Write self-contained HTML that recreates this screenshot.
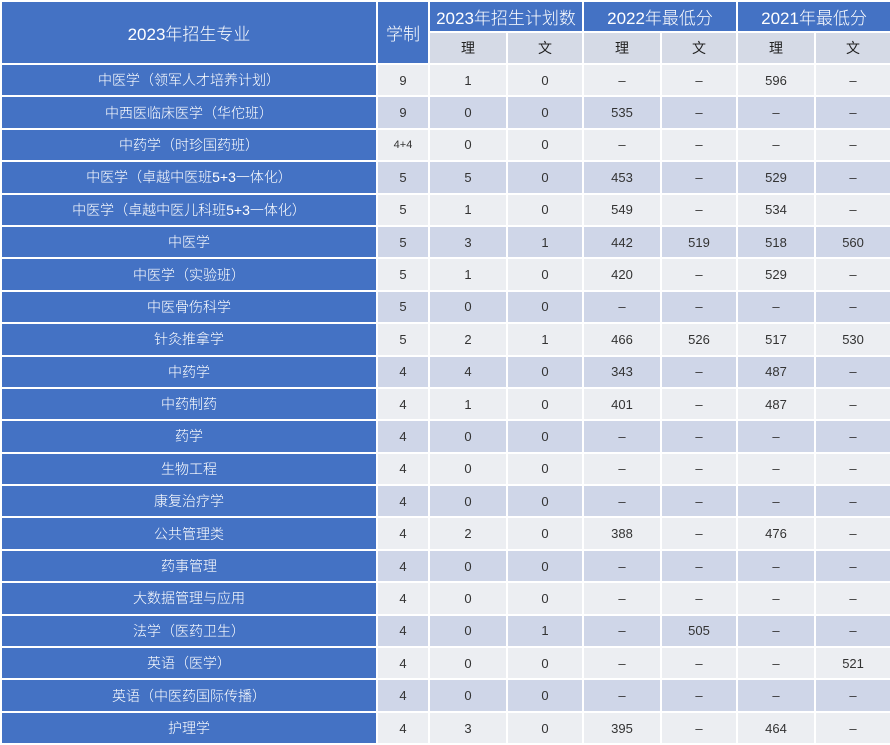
<!DOCTYPE html>
<html><head><meta charset="utf-8"><style>
html,body{margin:0;padding:0;background:#fff;}
body{width:890px;height:743px;overflow:hidden;}
table{border-collapse:collapse;table-layout:fixed;width:890px;font-family:"Liberation Sans","Noto Sans CJK SC",sans-serif;}
td{border:2px solid #fff;text-align:center;padding:0;font-size:13px;color:#333;}
.h{background:#4472c4;color:#fff;font-size:17px;font-weight:300;}
.s{background:#d5dae6;color:#222;font-size:14px;}
.n{background:#4472c4;color:#fff;font-size:14px;font-weight:300;}
tr.d{height:32.4px;}
tr.l td:not(.n){background:#eceef2;}
tr.k td:not(.n){background:#cfd6e8;}
</style></head><body>
<table>
<colgroup><col style="width:376px"><col style="width:52px"><col style="width:78px"><col style="width:76px"><col style="width:78px"><col style="width:76px"><col style="width:78px"><col style="width:76px"></colgroup>
<tr style="height:31px"><td class="h" rowspan="2">2023年招生专业</td><td class="h" rowspan="2">学制</td><td class="h" colspan="2">2023年招生计划数</td><td class="h" colspan="2">2022年最低分</td><td class="h" colspan="2">2021年最低分</td></tr>
<tr style="height:32px"><td class="s">理</td><td class="s">文</td><td class="s">理</td><td class="s">文</td><td class="s">理</td><td class="s">文</td></tr>
<tr class="d l"><td class="n">中医学（领军人才培养计划）</td><td>9</td><td>1</td><td>0</td><td>–</td><td>–</td><td>596</td><td>–</td></tr>
<tr class="d k"><td class="n">中西医临床医学（华佗班）</td><td>9</td><td>0</td><td>0</td><td>535</td><td>–</td><td>–</td><td>–</td></tr>
<tr class="d l"><td class="n">中药学（时珍国药班）</td><td style="font-size:11px">4+4</td><td>0</td><td>0</td><td>–</td><td>–</td><td>–</td><td>–</td></tr>
<tr class="d k"><td class="n">中医学（卓越中医班5+3一体化）</td><td>5</td><td>5</td><td>0</td><td>453</td><td>–</td><td>529</td><td>–</td></tr>
<tr class="d l"><td class="n">中医学（卓越中医儿科班5+3一体化）</td><td>5</td><td>1</td><td>0</td><td>549</td><td>–</td><td>534</td><td>–</td></tr>
<tr class="d k"><td class="n">中医学</td><td>5</td><td>3</td><td>1</td><td>442</td><td>519</td><td>518</td><td>560</td></tr>
<tr class="d l"><td class="n">中医学（实验班）</td><td>5</td><td>1</td><td>0</td><td>420</td><td>–</td><td>529</td><td>–</td></tr>
<tr class="d k"><td class="n">中医骨伤科学</td><td>5</td><td>0</td><td>0</td><td>–</td><td>–</td><td>–</td><td>–</td></tr>
<tr class="d l"><td class="n">针灸推拿学</td><td>5</td><td>2</td><td>1</td><td>466</td><td>526</td><td>517</td><td>530</td></tr>
<tr class="d k"><td class="n">中药学</td><td>4</td><td>4</td><td>0</td><td>343</td><td>–</td><td>487</td><td>–</td></tr>
<tr class="d l"><td class="n">中药制药</td><td>4</td><td>1</td><td>0</td><td>401</td><td>–</td><td>487</td><td>–</td></tr>
<tr class="d k"><td class="n">药学</td><td>4</td><td>0</td><td>0</td><td>–</td><td>–</td><td>–</td><td>–</td></tr>
<tr class="d l"><td class="n">生物工程</td><td>4</td><td>0</td><td>0</td><td>–</td><td>–</td><td>–</td><td>–</td></tr>
<tr class="d k"><td class="n">康复治疗学</td><td>4</td><td>0</td><td>0</td><td>–</td><td>–</td><td>–</td><td>–</td></tr>
<tr class="d l"><td class="n">公共管理类</td><td>4</td><td>2</td><td>0</td><td>388</td><td>–</td><td>476</td><td>–</td></tr>
<tr class="d k"><td class="n">药事管理</td><td>4</td><td>0</td><td>0</td><td>–</td><td>–</td><td>–</td><td>–</td></tr>
<tr class="d l"><td class="n">大数据管理与应用</td><td>4</td><td>0</td><td>0</td><td>–</td><td>–</td><td>–</td><td>–</td></tr>
<tr class="d k"><td class="n">法学（医药卫生）</td><td>4</td><td>0</td><td>1</td><td>–</td><td>505</td><td>–</td><td>–</td></tr>
<tr class="d l"><td class="n">英语（医学）</td><td>4</td><td>0</td><td>0</td><td>–</td><td>–</td><td>–</td><td>521</td></tr>
<tr class="d k"><td class="n">英语（中医药国际传播）</td><td>4</td><td>0</td><td>0</td><td>–</td><td>–</td><td>–</td><td>–</td></tr>
<tr class="d l"><td class="n">护理学</td><td>4</td><td>3</td><td>0</td><td>395</td><td>–</td><td>464</td><td>–</td></tr>
</table>
</body></html>
